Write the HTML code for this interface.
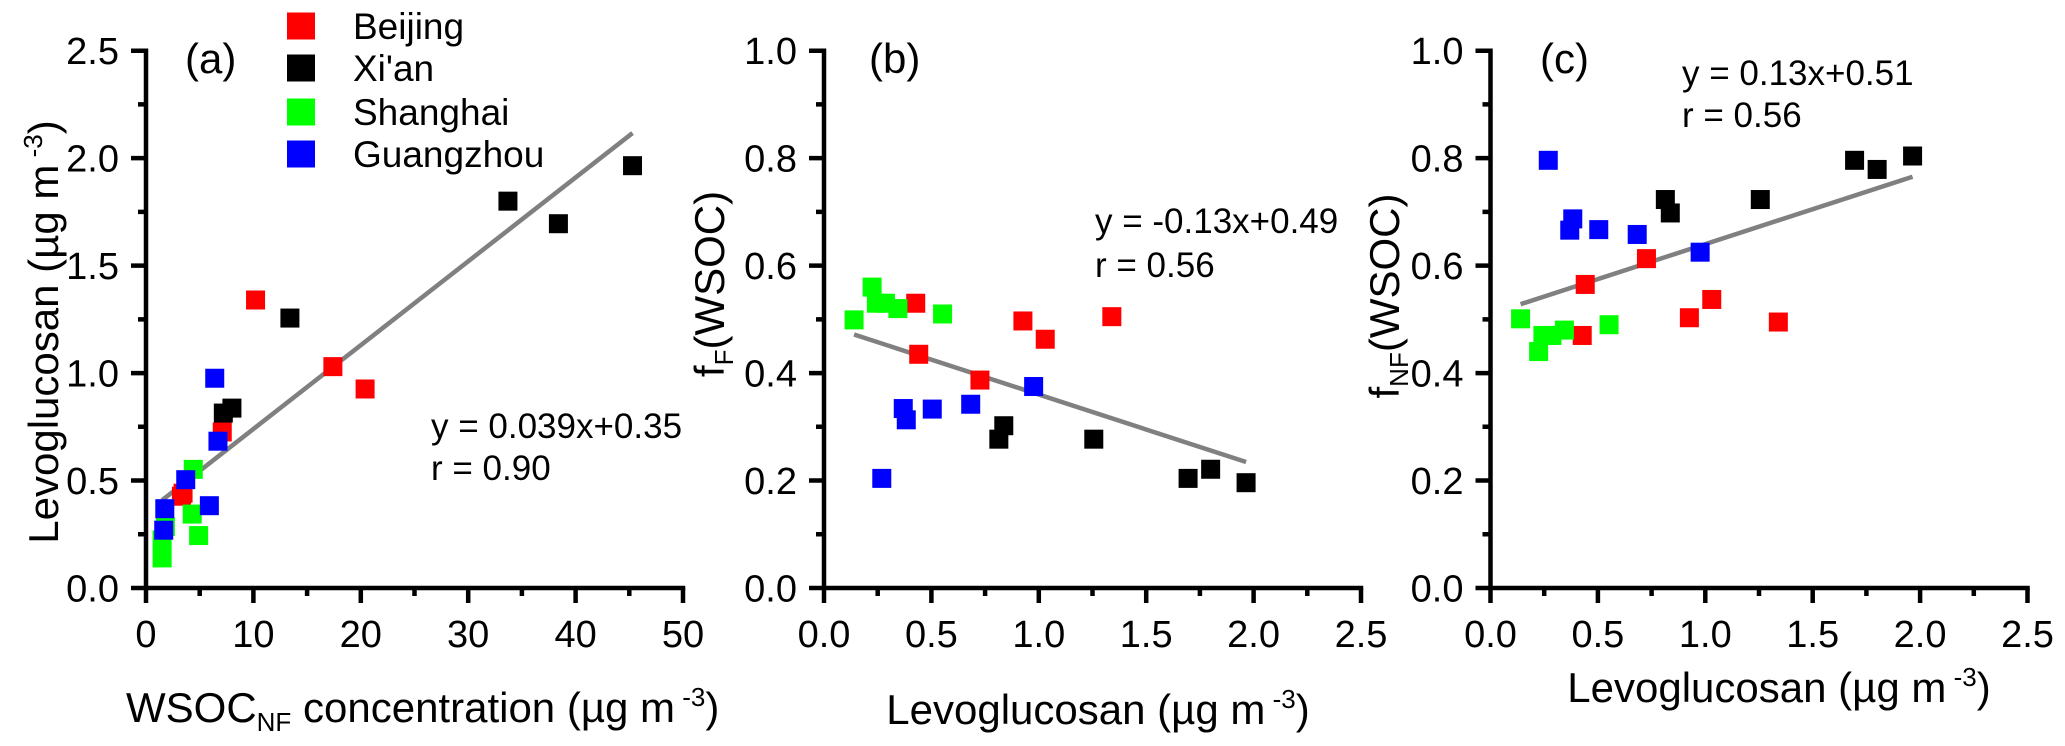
<!DOCTYPE html>
<html><head><meta charset="utf-8"><style>
html,body{margin:0;padding:0;background:#fff;}
svg{display:block;font-family:"Liberation Sans",Arial,sans-serif;}
</style></head><body>
<svg id="chart" width="2065" height="746" viewBox="0 0 2065 746" xmlns="http://www.w3.org/2000/svg"></svg>
<script>
// ---- data (per city) ----
const cities = ["Beijing", "Xi'an", "Shanghai", "Guangzhou"];
const cityColors = ["#ff0000", "#000000", "#00ff00", "#0000ff"];
const wsocBeijing = [3.3, 3.45, 7.1, 20.4, 17.4, 10.2];
const levoBeijing = [0.427, 0.441, 0.726, 0.926, 1.03, 1.34];
const fFBeijing = [0.53, 0.435, 0.387, 0.497, 0.463, 0.505];
const fNFBeijing = [0.47, 0.565, 0.613, 0.503, 0.537, 0.495];
const wsocXian = [8.0, 7.2, 13.4, 38.4, 33.7, 45.3];
const levoXian = [0.837, 0.814, 1.256, 1.695, 1.80, 1.965];
const fFXian = [0.302, 0.277, 0.277, 0.204, 0.221, 0.196];
const fNFXian = [0.698, 0.723, 0.723, 0.796, 0.779, 0.804];
const wsocShanghai = [1.5, 1.5, 4.9, 1.8, 4.3, 4.4];
const levoShanghai = [0.14, 0.224, 0.244, 0.286, 0.344, 0.552];
const fFShanghai = [0.499, 0.56, 0.53, 0.53, 0.52, 0.51];
const fNFShanghai = [0.501, 0.44, 0.47, 0.47, 0.48, 0.49];
const wsocGuangzhou = [1.65, 1.75, 5.9, 3.7, 6.7, 6.4];
const levoGuangzhou = [0.269, 0.369, 0.383, 0.504, 0.683, 0.976];
const fFGuangzhou = [0.204, 0.334, 0.313, 0.333, 0.342, 0.375];
const fNFGuangzhou = [0.796, 0.666, 0.687, 0.667, 0.658, 0.625];
// fit lines: slope, intercept
const fitA = [0.039, 0.35];
const fitB = [-0.13, 0.49];
const fitC = [0.13, 0.51];
const xTicksA = ["0","10","20","30","40","50"];
const yTicksA = ["0.0","0.5","1.0","1.5","2.0","2.5"];
const xTicksBC = ["0.0","0.5","1.0","1.5","2.0","2.5"];
const yTicksBC = ["0.0","0.2","0.4","0.6","0.8","1.0"];

const NS = "http://www.w3.org/2000/svg";
const svg = document.getElementById('chart');
function mk(tag, attrs, parent){
  const e = document.createElementNS(NS, tag);
  for (const k in attrs) e.setAttribute(k, attrs[k]);
  (parent||svg).appendChild(e);
  return e;
}
const Y0 = 588, YTOP = 50.7, W = 537;

function panel(id, x0, xmax, ymax, xTicks, yTicks, xsets, ysets, fit, label, eq, eqPos){
  const g = mk('g', {});
  
  
  const sx = v => x0 + v / xmax * W;
  const sy = v => Y0 - v / ymax * (Y0 - YTOP);
  const ax = mk('path', {d:`M${x0} ${YTOP} V${Y0} H${x0+W}`, fill:'none', stroke:'#000', 'stroke-width':4.5, 'stroke-linecap':'square'}, g);
  
  
  const n = xTicks.length - 1;
  let d = '';
  for (let i = 0; i <= n * 2; i++) {
    const xv = sx(i / (n*2) * xmax);
    d += `M${xv} ${Y0} V${Y0 + (i % 2 ? 8 : 15)}`;
    const yv = sy(i / (n*2) * ymax);
    d += `M${x0} ${yv} H${x0 - (i % 2 ? 8 : 15)}`;
  }
  const tk = mk('path', {d:d, stroke:'#000', 'stroke-width':4.5, fill:'none'}, g);
  
  
  xTicks.forEach((t, i) => {
    const e = mk('text', {x:sx(i / n * xmax), y:647, 'font-size':38, 'text-anchor':'middle'}, g);
    
    
    e.textContent = t;
  });
  yTicks.forEach((t, i) => {
    const e = mk('text', {x:x0 - 27, y:sy(i / n * ymax) + 13.5, 'font-size':38, 'text-anchor':'end'}, g);
    
    
    e.textContent = t;
  });
  const allx = [].concat(...xsets);
  const xa = Math.min(...allx), xb = Math.max(...allx);
  const ln = mk('line', {x1:sx(xa), y1:sy(fit[0]*xa+fit[1]), x2:sx(xb), y2:sy(fit[0]*xb+fit[1]), stroke:'#808080', 'stroke-width':4.5}, g);
  
  
  [0, 2, 1, 3].forEach(ci => {
    xsets[ci].forEach((xv, j) => {
      const r = mk('rect', {x:sx(xv) - 9.5, y:sy(ysets[ci][j]) - 9.5, width:19, height:19, fill:cityColors[ci]}, g);
      
      
    });
  });
  const pl = mk('text', {x:label[1], y:73, 'font-size':42}, g);
  
  
  pl.textContent = label[0];
  const e1 = mk('text', {x:eqPos[0], y:eqPos[1], 'font-size':35}, g);
  
  
  e1.textContent = eq[0];
  const e2 = mk('text', {x:eqPos[0], y:eqPos[2], 'font-size':35}, g);
  
  
  e2.textContent = eq[1];
}

panel('a', 146, 50, 2.5, xTicksA, yTicksA,
  [wsocBeijing, wsocXian, wsocShanghai, wsocGuangzhou],
  [levoBeijing, levoXian, levoShanghai, levoGuangzhou],
  fitA, ['(a)', 185], ['y = 0.039x+0.35', 'r = 0.90'], [431, 438, 480]);
panel('b', 824, 2.5, 1.0, xTicksBC, yTicksBC,
  [levoBeijing, levoXian, levoShanghai, levoGuangzhou],
  [fFBeijing, fFXian, fFShanghai, fFGuangzhou],
  fitB, ['(b)', 869], ['y = -0.13x+0.49', 'r = 0.56'], [1095, 233, 277]);
panel('c', 1490.5, 2.5, 1.0, xTicksBC, yTicksBC,
  [levoBeijing, levoXian, levoShanghai, levoGuangzhou],
  [fNFBeijing, fNFXian, fNFShanghai, fNFGuangzhou],
  fitC, ['(c)', 1540], ['y = 0.13x+0.51', 'r = 0.56'], [1682, 85, 127]);

const legY = [26, 68, 112, 154];
cities.forEach((c, i) => {
  const r = mk('rect', {x:287, y:legY[i] - 13.5, width:28, height:27, fill:cityColors[i]});
  
  
  const t = mk('text', {x:353, y:legY[i] + 13, 'font-size':37});
  
  
  t.textContent = c;
});
</script>
<svg style="position:absolute;left:0;top:0" width="2065" height="746" font-family="Liberation Sans, Arial, sans-serif">
  <text x="126" y="722" font-size="42">WSOC<tspan font-size="26" dy="9">NF</tspan><tspan dy="-9"> concentration (µg m</tspan><tspan font-size="26" dy="-16"> -3</tspan><tspan dy="16">)</tspan></text>
  <text x="1098" y="724" font-size="42" text-anchor="middle">Levoglucosan (µg m<tspan font-size="26" dy="-16"> -3</tspan><tspan dy="16">)</tspan></text>
  <text x="1779" y="702" font-size="42" text-anchor="middle">Levoglucosan (µg m<tspan font-size="26" dy="-16"> -3</tspan><tspan dy="16">)</tspan></text>
  <text transform="translate(58,332) rotate(-90)" font-size="42" text-anchor="middle">Levoglucosan (µg m<tspan font-size="26" dy="-16"> -3</tspan><tspan dy="16">)</tspan></text>
  <text transform="translate(724,284) rotate(-90)" font-size="42" text-anchor="middle">f<tspan font-size="26" dy="9">F</tspan><tspan dy="-9">(WSOC)</tspan></text>
  <text transform="translate(1399,296) rotate(-90)" font-size="42" text-anchor="middle">f<tspan font-size="26" dy="9">NF</tspan><tspan dy="-9">(WSOC)</tspan></text>
</svg>
</body></html>
